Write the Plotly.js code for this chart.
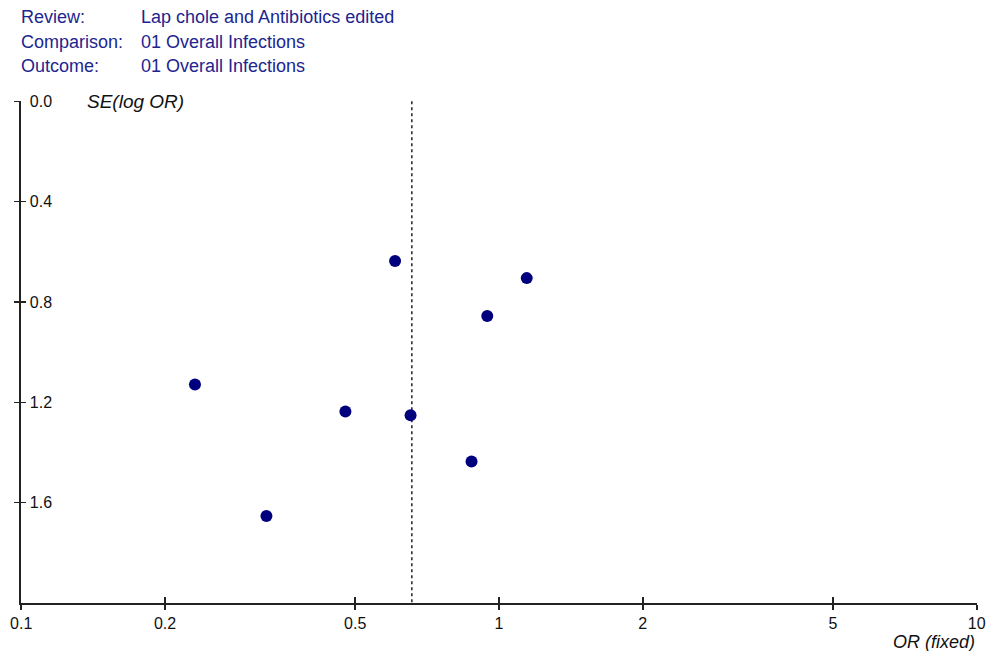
<!DOCTYPE html>
<html><head><meta charset="utf-8">
<script src="https://cdn.plot.ly/plotly-3.0.1.min.js"></script>
<style>html,body{margin:0;padding:0;background:#fff}#chart{width:999px;height:651px}</style>
</head><body><div id="chart"></div>
<script>
// Data
const studyOR = [0.606, 1.143, 0.945, 0.231, 0.477, 0.653, 0.876, 0.326];
const studySE = [0.637, 0.705, 0.856, 1.129, 1.237, 1.252, 1.436, 1.653];
const pooledOR = 0.657;
const xTickVals = [0.1, 0.2, 0.5, 1, 2, 5, 10];
const xTickText = ['0.1', '0.2', '0.5', '1', '2', '5', '10'];
const yTickVals = [0, 0.4, 0.8, 1.2, 1.6];
const yTickText = ['0.0', '0.4', '0.8', '1.2', '1.6'];
const headerLabels = ['Review:', 'Comparison:', 'Outcome:'];
const headerValues = ['Lap chole and Antibiotics edited', '01 Overall Infections', '01 Overall Infections'];

const W = 999, H = 651;
const M = {l: 21, r: 22, t: 101, b: 48};
const plotH = H - M.t - M.b;
const plotW = W - M.l - M.r;
const py = px => (H - M.b - px) / plotH;
const pxx = px => (px - M.l) / plotW;

const font = 'Liberation Sans, Arial, sans-serif';
const blue = '#1c2590';

const annotations = [];
const headerY = [17, 42, 66];
headerLabels.forEach((t, i) => {
  annotations.push({text: t, xref: 'paper', yref: 'paper', x: pxx(19), y: py(headerY[i]),
    xanchor: 'left', yanchor: 'middle', showarrow: false, font: {family: font, size: 18, color: blue}});
  annotations.push({text: headerValues[i], xref: 'paper', yref: 'paper', x: pxx(139), y: py(headerY[i]),
    xanchor: 'left', yanchor: 'middle', showarrow: false, font: {family: font, size: 18, color: blue}});
});
annotations.push({text: '<i>SE(log OR)</i>', xref: 'paper', yref: 'paper', x: pxx(85), y: py(101),
  xanchor: 'left', yanchor: 'middle', showarrow: false, font: {family: font, size: 19, color: '#111'}});
annotations.push({text: '<i>OR (fixed)</i>', xref: 'paper', yref: 'paper', x: pxx(977), y: py(642),
  xanchor: 'right', yanchor: 'middle', showarrow: false, font: {family: font, size: 18, color: '#111'}});

const traces = [
  {x: [pooledOR, pooledOR], y: [0, 2], mode: 'lines', type: 'scatter',
   line: {color: '#222', width: 1.5, dash: 'dot'}, hoverinfo: 'skip', showlegend: false},
  {x: studyOR, y: studySE, mode: 'markers', type: 'scatter',
   marker: {color: '#00007f', size: 12, symbol: 'circle'}, showlegend: false},
  {x: [pooledOR], y: [0], xaxis: 'x2', yaxis: 'y2', mode: 'markers', marker: {opacity: 0}, showlegend: false, hoverinfo: 'skip'}
];

const layout = {
  width: W, height: H, margin: M,
  paper_bgcolor: '#fff', plot_bgcolor: '#fff',
  showlegend: false,
  font: {family: font, size: 16, color: '#111'},
  xaxis: {type: 'log', range: [-1.0005, 1.0005], tickvals: xTickVals, ticktext: xTickText,
    showgrid: false, zeroline: false, showline: true, linecolor: '#222', linewidth: 2,
    ticks: 'outside', ticklen: 5, tickwidth: 1.5, tickcolor: '#222', ticklabeloverflow: 'allow',
    tickfont: {family: font, size: 16, color: '#111'}},
  yaxis: {range: [2, -0.001], tickvals: yTickVals, ticktext: yTickText,
    showgrid: false, zeroline: false, showline: true, linecolor: '#222', linewidth: 2,
    ticks: 'outside', ticklen: 5, tickwidth: 1.5, tickcolor: '#222',
    ticklabelposition: 'inside', ticklabelstandoff: 9, ticklabeloverflow: 'allow',
    tickfont: {family: font, size: 16, color: '#111'}},
  xaxis2: {type: 'log', range: [-1.0005, 1.0005], overlaying: 'x', tickvals: xTickVals, showticklabels: false,
    showgrid: false, zeroline: false, showline: false, ticks: 'inside', ticklen: 6, tickwidth: 1.5, tickcolor: '#222'},
  yaxis2: {range: [2, -0.001], overlaying: 'y', tickvals: yTickVals, showticklabels: false,
    showgrid: false, zeroline: false, showline: false, ticks: 'inside', ticklen: 5, tickwidth: 1.5, tickcolor: '#222'},
  annotations: annotations
};

Plotly.newPlot('chart', traces, layout, {displayModeBar: false, staticPlot: true});
</script></body></html>
